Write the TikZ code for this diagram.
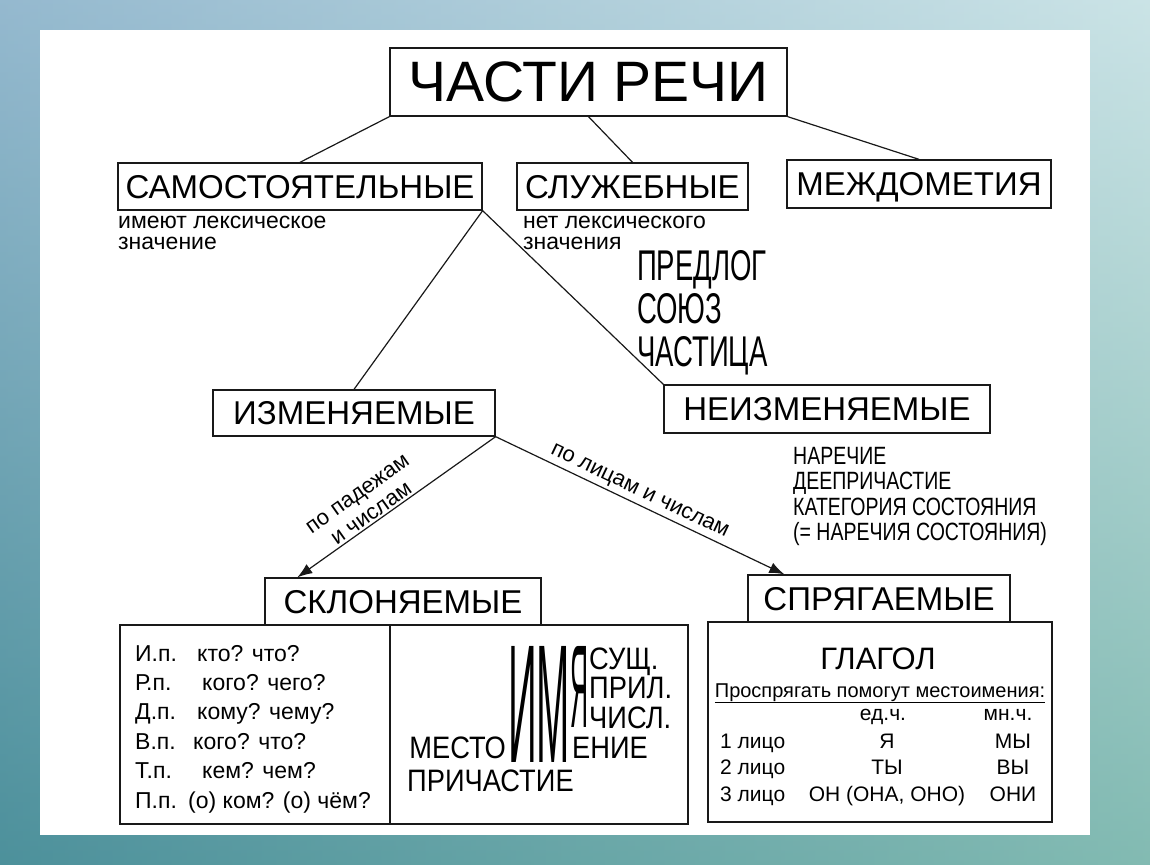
\documentclass[tikz,border=0pt]{standalone}
\usepackage{fontspec}
\setmainfont{Liberation Sans}
\newfontfamily\condfont[FakeStretch=0.64]{Liberation Sans}
\newfontfamily\narrowfont[FakeStretch=0.78]{Liberation Sans}
\newfontfamily\semifont[FakeStretch=0.88]{Liberation Sans}
\usepackage{xcolor}
\usepackage{graphicx}
\usetikzlibrary{positioning,arrows.meta}

\definecolor{washblue}{RGB}{62,128,168}
\definecolor{washsky}{RGB}{160,205,210}
\definecolor{washgreen}{RGB}{95,165,140}
\definecolor{ink}{RGB}{25,25,25}

\tikzset{
  box/.style={draw=ink,line width=1.3pt,fill=white,inner sep=1pt,minimum height=47pt,
    text depth=0pt,font=\fontsize{33}{33}\selectfont},
  panel/.style={draw=ink,line width=1.3pt,inner sep=0pt},
  link/.style={draw=ink,line width=1.2pt},
  arr/.style={link,-{Latex[length=15pt,width=11pt]}},
  note/.style={anchor=north west,align=left,inner sep=0pt,font=\fontsize{23}{21}\selectfont},
  kind/.style={anchor=north west,align=left,inner sep=0pt},
  row/.style={anchor=base west,inner sep=0pt,font=\fontsize{23}{23}\selectfont},
  cell/.style={anchor=base,inner sep=0pt,font=\fontsize{21}{21}\selectfont},
}

\begin{document}
\begin{tikzpicture}[x=1pt,y=-1pt]
  % background
  \shade[left color=washblue,right color=washsky] (0,0) rectangle (1150,864);
  \shade[top color=white,bottom color=washgreen,opacity=0.45] (0,0) rectangle (1150,864);
  \fill[white] (40,30) rectangle (1090,835);
  \useasboundingbox (0,0) rectangle (1150,864);

  % boxes
  \node[box,minimum width=397pt,minimum height=68pt,font=\fontsize{57}{57}\selectfont] (parts) at (588.5,82) {ЧАСТИ РЕЧИ};
  \node[box,minimum width=364pt] (indep) at (300,186.5) {САМОСТОЯТЕЛЬНЫЕ};
  \node[box,minimum width=231pt] (aux) at (632.5,186.5) {СЛУЖЕБНЫЕ};
  \node[box,minimum width=264pt,minimum height=48pt] (interj) at (919,184) {МЕЖДОМЕТИЯ};
  \node[box,minimum width=282pt,minimum height=46pt] (var) at (354,413) {ИЗМЕНЯЕМЫЕ};
  \node[box,minimum width=326pt,minimum height=48pt] (invar) at (827,409) {НЕИЗМЕНЯЕМЫЕ};
  \node[box,minimum width=276pt] (decl) at (403,601.5) {СКЛОНЯЕМЫЕ};
  \node[box,minimum width=262pt] (conj) at (879,598.5) {СПРЯГАЕМЫЕ};

  % notes
  \node[note] (lexyes) at (118,216) {имеют лексическое\\значение};
  \node[note] (lexno) at (523,216) {нет лексического\\значения};
  \node[kind,font=\fontsize{43}{43}\condfont] (func) at (637,250) {ПРЕДЛОГ\\СОЮЗ\\ЧАСТИЦА};
  \node[kind,font=\fontsize{25}{25.5}\narrowfont] (adverbs) at (793,447)
    {НАРЕЧИЕ\\ДЕЕПРИЧАСТИЕ\\КАТЕГОРИЯ СОСТОЯНИЯ\\(= НАРЕЧИЯ СОСТОЯНИЯ)};

  % connectors
  \draw[link] (parts.south west) -- (indep.north);
  \draw[link] (parts.south) -- (aux.north);
  \draw[link] (parts.south east) -- (interj.north);
  \draw[link] (indep.south east) -- (var.north);
  \draw[link] (indep.south east) -- (invar.north west);
  \draw[arr] (var.south east) -- node[sloped,above,pos=0.6,align=center,inner sep=2pt,
    font=\fontsize{22}{24}\selectfont] {по падежам\\и числам} ([xshift=33pt]decl.north west);
  \draw[arr] (var.south east) -- node[sloped,above,pos=0.48,inner sep=3pt,
    font=\fontsize{22}{22}\selectfont] {по лицам и числам} ([xshift=37pt]conj.north west);

  % declension panel
  \node[panel,minimum width=270pt,minimum height=199pt] (cases) at (255,724.5) {};
  \node[panel,minimum width=298pt,minimum height=199pt] (names) at (539,724.5) {};
  \foreach \c/\q/\qx [count=\i] in {И.п./{кто? что?}/197,Р.п./{кого? чего?}/202,
      Д.п./{кому? чему?}/197,В.п./{кого? что?}/193,Т.п./{кем? чем?}/202,
      П.п./{(о) ком? (о) чём?}/188} {
    \node[row] (case\i) at (135,{661+29.4*(\i-1)}) {\c};
    \node[row] (ask\i) at (\qx,{661+29.4*(\i-1)}) {\q};
  }
  \node[anchor=south west,inner sep=0pt] (im) at (508,763) {\resizebox{62pt}{116pt}{ИМ}};
  \node[anchor=south west,inner sep=0pt] (ya) at (570,728) {\resizebox{18pt}{81pt}{Я}};
  \node[kind,font=\fontsize{31}{31}\semifont] (noun) at (589,648) {СУЩ.};
  \node[kind,font=\fontsize{31}{31}\semifont] (adj) at (589,677) {ПРИЛ.};
  \node[kind,font=\fontsize{31}{31}\semifont] (numr) at (589,707) {ЧИСЛ.};
  \node[kind,anchor=north east,font=\fontsize{31}{31}\semifont] (pron) at (506,737) {МЕСТО};
  \node[kind,font=\fontsize{31}{31}\semifont] (pronend) at (572,737) {ЕНИЕ};
  \node[kind,font=\fontsize{31}{31}\semifont] (partc) at (407,770) {ПРИЧАСТИЕ};

  % conjugation panel
  \node[panel,minimum width=344pt,minimum height=200pt] (verb) at (880,722) {};
  \node[inner sep=0pt,font=\fontsize{31}{31}\selectfont] (verbname) at (878,659) {ГЛАГОЛ};
  \node[cell,font=\fontsize{20}{20}\selectfont] (hint) at (880,697) {\underline{Проспрягать помогут местоимения:}};
  \node[cell] (sing) at (883,720) {ед.ч.};
  \node[cell] (plur) at (1008,720) {мн.ч.};
  \foreach \p/\s/\m [count=\i] in {1 лицо/Я/МЫ,2 лицо/ТЫ/ВЫ,3 лицо/{ОН (ОНА, ОНО)}/ОНИ} {
    \node[row,font=\fontsize{21}{21}\selectfont] (person\i) at (720,{748+26.5*(\i-1)}) {\p};
    \node[cell] (sg\i) at (887,{748+26.5*(\i-1)}) {\s};
    \node[cell] (pl\i) at (1013,{748+26.5*(\i-1)}) {\m};
  }
\end{tikzpicture}
\end{document}
